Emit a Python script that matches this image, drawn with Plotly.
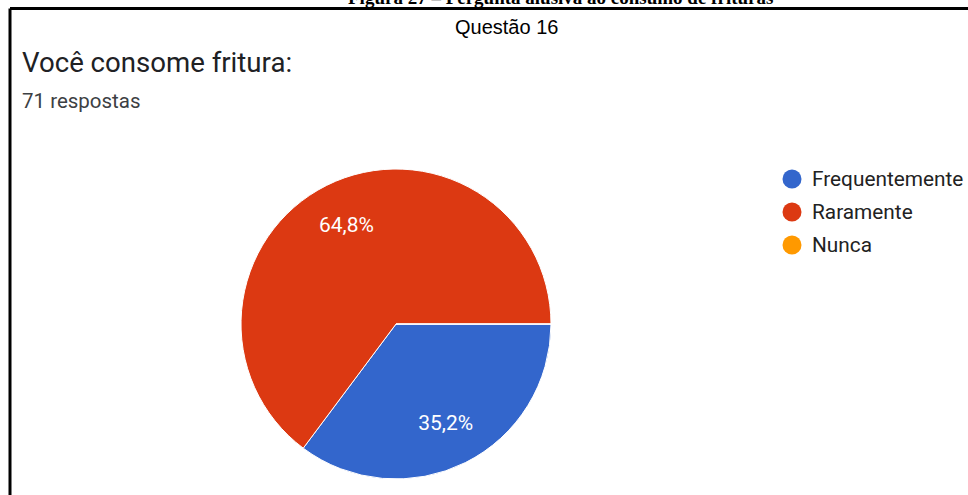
import plotly.graph_objects as go

# Survey answers (71 responses)
labels = ["Frequentemente", "Raramente", "Nunca"]
counts = [25, 46, 0]
colors = ["#3366cc", "#dc3912", "#ff9900"]

caption = "Figura 27 – Pergunta alusiva ao consumo de frituras"
header = "Questão 16"
question = "Você consome fritura:"
answers_note = f"{sum(counts)} respostas"

W, H = 968, 495


def px(x):
    return x / W


def py(y):
    return 1 - y / H


pie_domain = dict(x=[px(241), px(551)], y=[py(479), py(169)])
pct_labels = ["%{percent:.1%}" if c > 0 else "" for c in counts]

fig = go.Figure()

# the coloured slices
fig.add_trace(go.Pie(
    labels=labels,
    values=counts,
    sort=False,
    direction="clockwise",
    rotation=90,
    marker=dict(colors=colors, line=dict(color="white", width=1)),
    textinfo="none",
    showlegend=False,
    hoverinfo="label+value+percent",
    domain=pie_domain,
))

# transparent ring on top carrying the percentage labels further out
fig.add_trace(go.Pie(
    labels=labels,
    values=counts,
    sort=False,
    direction="clockwise",
    rotation=90,
    hole=0.43,
    marker=dict(colors=["rgba(0,0,0,0)"] * len(counts), line=dict(width=0)),
    texttemplate=pct_labels,
    textposition="inside",
    insidetextorientation="horizontal",
    insidetextfont=dict(family="Roboto", size=21, color="white"),
    showlegend=False,
    hoverinfo="skip",
    domain=pie_domain,
))

annotations = [
    dict(text=f"<b>{caption}</b>", x=px(560), y=py(-2), xanchor="center", yanchor="middle",
         font=dict(family="Liberation Serif", size=19, color="black"), showarrow=False),
    dict(text=header, x=px(507), y=py(27), xanchor="center", yanchor="middle",
         font=dict(family="Liberation Sans", size=20, color="black"), showarrow=False),
    dict(text=question, x=px(20), y=py(63), xanchor="left", yanchor="middle",
         font=dict(family="Roboto", size=27.6, color="#202124"), showarrow=False),
    dict(text=answers_note, x=px(20), y=py(101), xanchor="left", yanchor="middle",
         font=dict(family="Roboto", size=20.5, color="#3c4043"), showarrow=False),
]

shapes = [
    # frame around the form screenshot
    dict(type="line", xref="paper", yref="paper", x0=px(10), x1=px(968), y0=py(8.5), y1=py(8.5),
         line=dict(color="black", width=3)),
    dict(type="line", xref="paper", yref="paper", x0=px(10), x1=px(10), y0=py(8.5), y1=py(500),
         line=dict(color="black", width=3)),
]

# circle-marker legend on the right
for i, (lab, col) in enumerate(zip(labels, colors)):
    cy = 179 + 33 * i
    r = 9.5
    shapes.append(dict(type="circle", xref="paper", yref="paper",
                       x0=px(792 - r), x1=px(792 + r), y0=py(cy + r), y1=py(cy - r),
                       fillcolor=col, line=dict(width=0)))
    annotations.append(dict(text=lab, x=px(810), y=py(cy), xanchor="left", yanchor="middle",
                            font=dict(family="Roboto", size=20.8, color="#222222"), showarrow=False))

fig.update_layout(
    width=W, height=H,
    margin=dict(l=0, r=0, t=0, b=0),
    paper_bgcolor="white",
    plot_bgcolor="white",
    separators=",.",
    annotations=annotations,
    shapes=shapes,
)

fig.write_html("out.html")
